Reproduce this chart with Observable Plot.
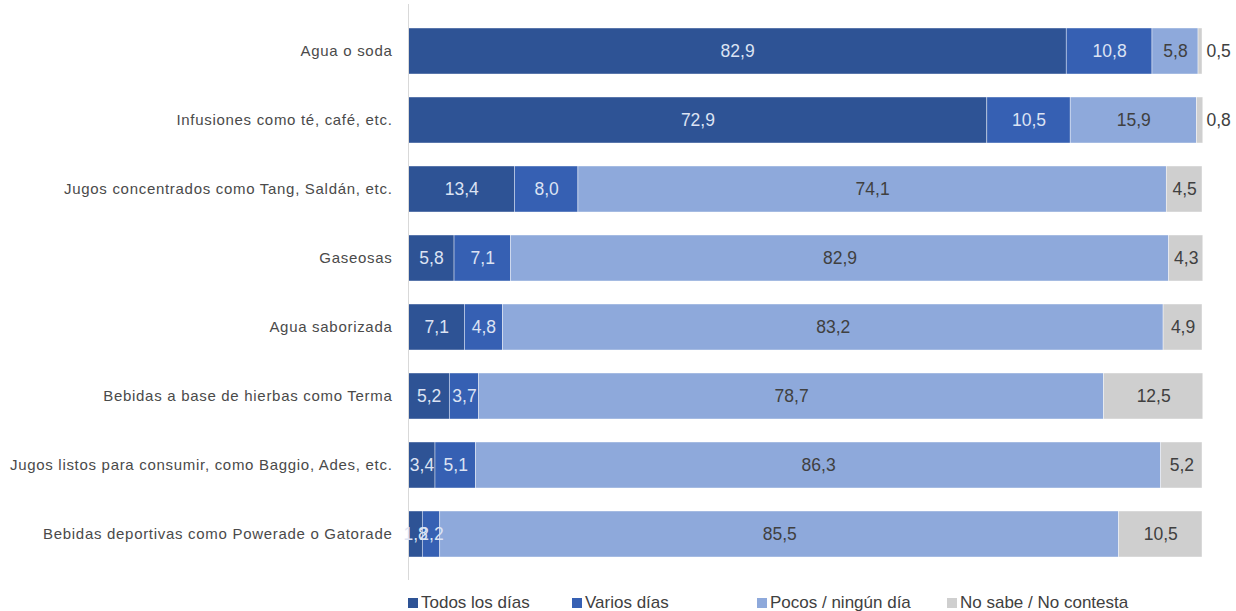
<!DOCTYPE html>
<html><head><meta charset="utf-8">
<script src="https://cdn.jsdelivr.net/npm/d3@7"></script>
<script src="https://cdn.jsdelivr.net/npm/@observablehq/plot@0.6"></script>
<style>
body{margin:0;background:#fff;font-family:"Liberation Sans",Arial,sans-serif;}
#legend{position:relative;height:31px;font-size:17px;color:#404040;}
.item{position:absolute;top:13px;line-height:20px;display:flex;align-items:center;white-space:nowrap}
.sw{width:10px;height:10px;margin-right:3px;display:inline-block}
g[aria-label="y-axis tick label"] text{letter-spacing:0.7px;fill:#4a4a4a}
</style></head><body><div id="chart"></div><div id="legend"></div>
<script>
const categories = [
  "Agua o soda",
  "Infusiones como té, café, etc.",
  "Jugos concentrados como Tang, Saldán, etc.",
  "Gaseosas",
  "Agua saborizada",
  "Bebidas a base de hierbas como Terma",
  "Jugos listos para consumir, como Baggio, Ades, etc.",
  "Bebidas deportivas como Powerade o Gatorade"
];
const seriesNames = ["Todos los días","Varios días","Pocos / ningún día","No sabe / No contesta"];
const todos  = [82.9, 72.9, 13.4, 5.8, 7.1, 5.2, 3.4, 1.8];
const varios = [10.8, 10.5, 8.0, 7.1, 4.8, 3.7, 5.1, 2.2];
const pocos  = [5.8, 15.9, 74.1, 82.9, 83.2, 78.7, 86.3, 85.5];
const noSabe = [0.5, 0.8, 4.5, 4.3, 4.9, 12.5, 5.2, 10.5];
const colors = ["#2E5395","#3660B3","#8EA9DB","#CFCFCF"];
const labelColors = ["#DCE3F3","#DCE3F3","#404040","#404040"];

const seriesValues = [todos, varios, pocos, noSabe];
const data = [];
categories.forEach((c, i) => {
  seriesNames.forEach((s, j) => {
    data.push({cat: c, series: s, value: seriesValues[j][i], si: j});
  });
});
const fmt = v => v.toFixed(1).replace(".", ",");
const inside = data.filter(d => !(d.si === 3 && d.value < 2));
const outside = data.filter(d => d.si === 3 && d.value < 2);

const chart = Plot.plot({
  width: 1236,
  height: 580,
  marginLeft: 408,
  marginRight: 34,
  marginTop: 4,
  marginBottom: 0,
  style: {fontFamily: '"Liberation Sans", Arial, sans-serif', background: "#fff", color: "#404040"},
  x: {domain: [0, 100], axis: null},
  y: {domain: categories, padding: 0.335, label: null},
  color: {domain: seriesNames, range: colors},
  marks: [
    Plot.barX(data, Plot.stackX({x: "value", y: "cat", fill: "series", stroke: "#fff", strokeWidth: 0.6, strokeOpacity: 0.7})),
    Plot.ruleX([0], {stroke: "#d9d9d9", strokeWidth: 1}),
    Plot.text(inside, Plot.stackX({x: "value", y: "cat", z: "series", text: d => fmt(d.value), fill: d => labelColors[d.si], fontSize: 17.5})),
    Plot.text(outside, {x: 100, y: "cat", text: d => fmt(d.value), textAnchor: "start", dx: 4, fill: "#404040", fontSize: 17.5}),
    Plot.axisY({tickSize: 0, tickPadding: 16, fontSize: 15, label: null})
  ]
});
document.getElementById("chart").appendChild(chart);

const legendLeft = [408, 572, 757, 947];
const legend = document.getElementById("legend");
seriesNames.forEach((s, j) => {
  const it = document.createElement("div");
  it.className = "item";
  it.style.left = legendLeft[j] + "px";
  it.innerHTML = `<span class="sw" style="background:${colors[j]}"></span><span>${s}</span>`;
  legend.appendChild(it);
});
</script></body></html>
